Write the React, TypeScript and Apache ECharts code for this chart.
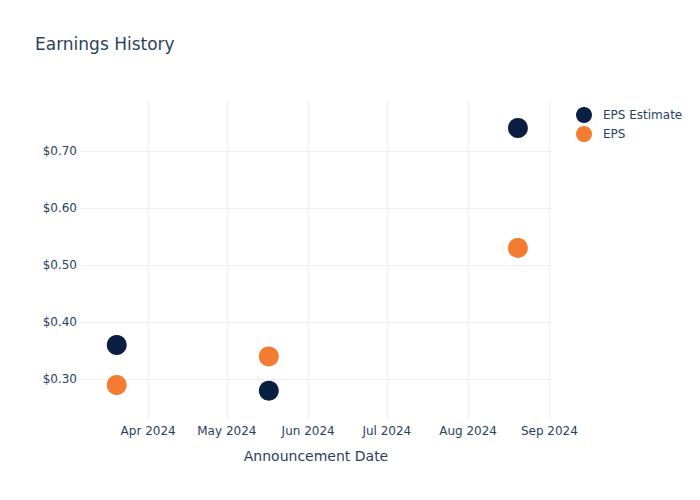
import React, { useEffect, useRef } from "react";
import * as echarts from "echarts";

const dates = ["2024-03-20", "2024-05-17", "2024-08-20"];
const epsEstimate = [0.36, 0.28, 0.74];
const eps = [0.29, 0.34, 0.53];
const monthNames = ["Jan", "Feb", "Mar", "Apr", "May", "Jun", "Jul", "Aug", "Sep", "Oct", "Nov", "Dec"];
const xMin = "2024-03-06";
const xMax = "2024-09-02";
const yMin = 0.2287;
const yMax = 0.789;

const FONT = "DejaVu Sans";
const TEXT = "#2a3f5f";
const GRID = "#eef0f3";

export default function App() {
  const ref = useRef<HTMLDivElement>(null);
  useEffect(() => {
    if (!ref.current) return;
    const chart = echarts.init(ref.current, undefined, { renderer: "svg" });
    const parse = (s: string) => {
      const [y, m, d] = s.split("-").map(Number);
      return new Date(y, m - 1, d).getTime();
    };
    chart.setOption({
      animation: false,
      backgroundColor: "#fff",
      textStyle: { fontFamily: FONT },
      title: {
        text: "Earnings History",
        left: 35,
        top: 35,
        padding: 0,
        textStyle: { fontFamily: FONT, fontSize: 17, fontWeight: "normal", color: TEXT },
      },
      legend: {
        orient: "vertical",
        left: 571,
        top: 102,
        itemWidth: 28,
        itemHeight: 16,
        itemGap: 3,
        icon: "circle",
        textStyle: { fontFamily: FONT, fontSize: 12, color: TEXT },
        data: ["EPS Estimate", "EPS"],
      },
      grid: { left: 80, right: 148, top: 100, bottom: 80, containLabel: false },
      xAxis: {
        type: "time",
        min: parse(xMin),
        max: parse(xMax),
        splitNumber: 6,
        minInterval: 28 * 86400000,
        name: "Announcement Date",
        nameLocation: "middle",
        nameGap: 29,
        nameTextStyle: { fontFamily: FONT, fontSize: 14, color: TEXT },
        axisLine: { show: false },
        axisTick: { show: false },
        axisLabel: {
          fontFamily: FONT,
          fontSize: 12,
          color: TEXT,
          margin: 5,
          showMinLabel: false,
          showMaxLabel: false,
          hideOverlap: false,
          formatter: (v: number) => {
            const d = new Date(v);
            if (d.getDate() !== 1) return "";
            return monthNames[d.getMonth()] + " " + d.getFullYear();
          },
        },
        splitLine: { show: true, showMinLine: false, showMaxLine: false, lineStyle: { color: GRID, width: 1 } },
      },
      yAxis: {
        type: "value",
        min: yMin,
        max: yMax,
        splitNumber: 5,
        axisLine: { show: false },
        axisTick: { show: false },
        axisLabel: {
          fontFamily: FONT,
          fontSize: 12,
          color: TEXT,
          margin: 3,
          showMinLabel: false,
          showMaxLabel: false,
          formatter: (v: number) => {
            if (Math.abs(v * 10 - Math.round(v * 10)) > 1e-6) return "";
            return "$" + v.toFixed(2);
          },
        },
        splitLine: { show: true, showMinLine: false, showMaxLine: false, lineStyle: { color: GRID, width: 1 } },
      },
      series: [
        {
          name: "EPS Estimate",
          type: "scatter",
          symbol: "circle",
          symbolSize: 20,
          itemStyle: { color: "#0b1f42", opacity: 1 },
          data: dates.map((d, i) => [parse(d), epsEstimate[i]]),
        },
        {
          name: "EPS",
          type: "scatter",
          symbol: "circle",
          symbolSize: 20,
          itemStyle: { color: "#f47c32", opacity: 1 },
          data: dates.map((d, i) => [parse(d), eps[i]]),
        },
      ],
    });
    return () => chart.dispose();
  }, []);
  return <div ref={ref} style={{ width: 700, height: 500, position: "absolute", left: 0, top: 0 }} />;
}
